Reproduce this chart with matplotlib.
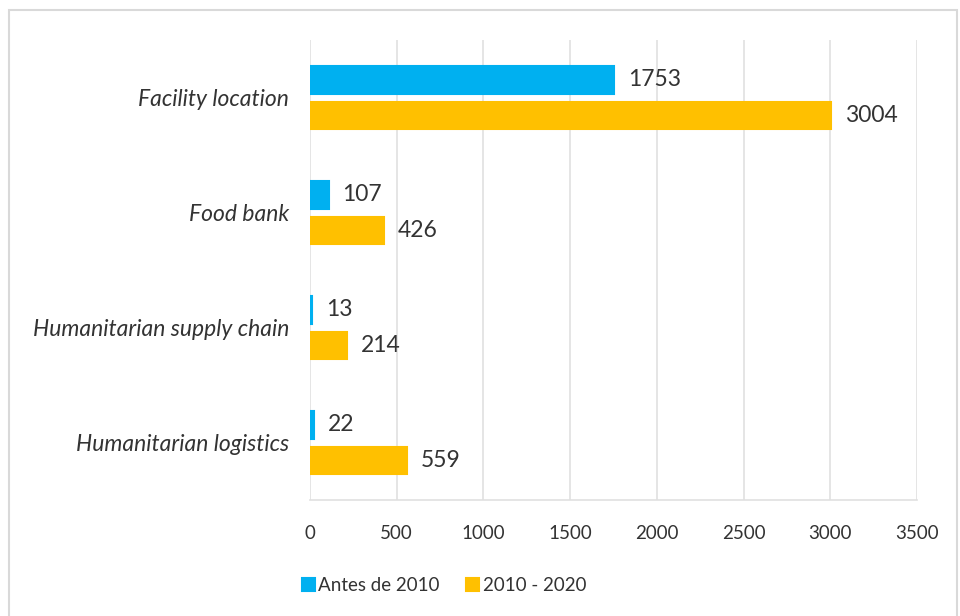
import numpy as np
import matplotlib
matplotlib.use("Agg")
from matplotlib import pyplot as plt
from matplotlib.patches import Rectangle

categories = ["Facility location", "Food bank", "Humanitarian supply chain", "Humanitarian logistics"]
antes_2010 = [1753, 107, 13, 22]
desde_2010 = [3004, 426, 214, 559]
series_names = ["Antes de 2010", "2010 - 2020"]
x_ticks = [0, 500, 1000, 1500, 2000, 2500, 3000, 3500]

BLUE = "#00B0F0"
ORANGE = "#FFC000"
TEXT = "#333333"
SMALL = 13.5

plt.rcParams["font.family"] = ["Lato", "DejaVu Sans"]

fig = plt.figure(figsize=(9.6, 6.16), dpi=100)
ax = fig.add_axes([0.3229, 0.188, 0.6323, 0.747])

# outer chart frame
fig.patches.append(Rectangle((0.009, -0.01), 0.988, 0.993, transform=fig.transFigure,
                             fill=False, edgecolor="#D9D9D9", linewidth=1.5))

y = np.arange(len(categories))
h = 0.24
off = 0.155
b1 = ax.barh(y - off, antes_2010, height=h, color=BLUE, label=series_names[0],
             edgecolor=BLUE, linewidth=1.5, zorder=3)
b2 = ax.barh(y + off, desde_2010, height=h, color=ORANGE, label=series_names[1],
             edgecolor=ORANGE, linewidth=1.5, zorder=3)

for bars, vals in ((b1, antes_2010), (b2, desde_2010)):
    for bar, v in zip(bars, vals):
        ax.annotate(str(v), (v, bar.get_y() + bar.get_height() / 2),
                    xytext=(10, 0), textcoords="offset points",
                    va="center", ha="left", fontsize=16.5, color=TEXT)

ax.set_xlim(0, 3500)
ax.set_ylim(3.5, -0.5)
ax.set_xticks(x_ticks)
ax.set_xticklabels([str(t) for t in x_ticks], fontsize=SMALL, color=TEXT)
ax.set_yticks(y)
ax.set_yticklabels(categories, fontsize=16.5, color=TEXT, style="italic")
ax.tick_params(axis="both", length=0)
ax.tick_params(axis="x", pad=18)
ax.tick_params(axis="y", pad=15)

ax.grid(axis="x", color="#E0E0E0", linewidth=1.2, zorder=0)
for side in ("top", "right", "left"):
    ax.spines[side].set_visible(False)
ax.spines["bottom"].set_color("#E0E0E0")
ax.spines["bottom"].set_linewidth(1.2)

fig.legend(handles=[b1, b2], labels=series_names, loc="center",
           bbox_to_anchor=(0.4625, 0.05), ncol=2, frameon=False,
           fontsize=SMALL, handlelength=0.7, handleheight=0.7,
           handletextpad=0.2, columnspacing=1.4, labelcolor=TEXT)

fig.savefig("out.png", dpi=100)
